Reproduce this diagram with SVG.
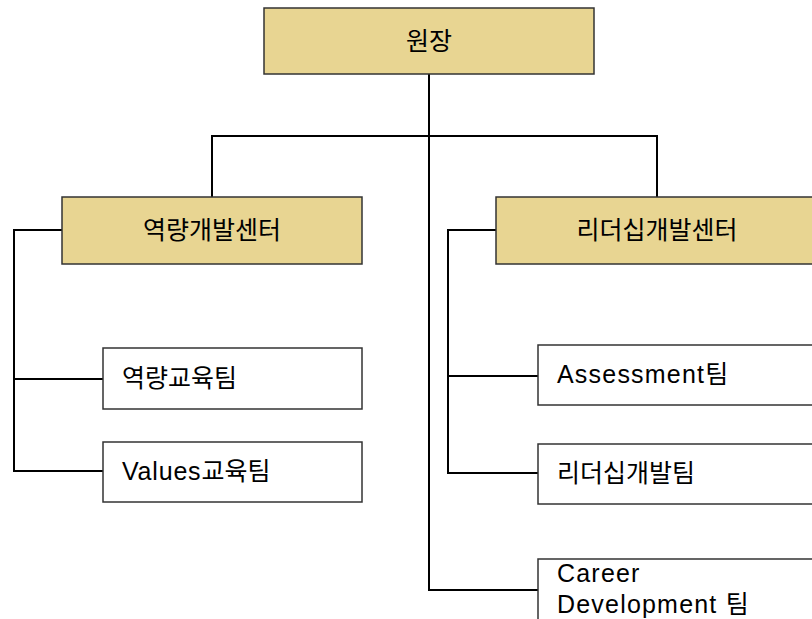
<svg xmlns="http://www.w3.org/2000/svg" width="812" height="619" viewBox="0 0 812 619">
  <style>
    .hub { fill: #e8d592; stroke: #333; stroke-width: 1.5; }
    .team { fill: #fff; stroke: #333; stroke-width: 1.5; }
    .wire { fill: none; stroke: #000; stroke-width: 2; }
    text { font-family: "Liberation Sans", "Noto Sans CJK KR", sans-serif; font-size: 25px; fill: #000; }
    .c { text-anchor: middle; dominant-baseline: central; }
    .l { dominant-baseline: central; }
    .lat { letter-spacing: 1.2px; }
  </style>
  <rect width="812" height="619" fill="#fff"/>

  <!-- connectors -->
  <g id="connectors" class="wire">
    <path d="M429 74 V590 H538"/>
    <path d="M212 197 V136 H657 V197"/>
    <path d="M62 230 H14 V471 H103 M14 379 H103"/>
    <path d="M496 230 H448 V473 H538 M448 376 H538"/>
  </g>

  <g id="director">
    <rect class="hub" x="264" y="8" width="330" height="66"/>
    <text class="c" x="429" y="41">원장</text>
  </g>

  <g id="competency-center">
    <rect class="hub" x="62" y="197" width="300" height="67"/>
    <text class="c" x="212" y="230">역량개발센터</text>
  </g>

  <g id="leadership-center">
    <rect class="hub" x="496" y="197" width="322" height="67"/>
    <text class="c" x="657" y="230">리더십개발센터</text>
  </g>

  <g id="competency-team">
    <rect class="team" x="103" y="348" width="259" height="61"/>
    <text class="l" x="122" y="378">역량교육팀</text>
  </g>

  <g id="values-team">
    <rect class="team" x="103" y="442" width="259" height="60"/>
    <text class="l" x="122" y="471"><tspan style="letter-spacing:0.8px">Values</tspan>교육팀</text>
  </g>

  <g id="assessment-team">
    <rect class="team" x="538" y="345" width="280" height="60"/>
    <text class="l" x="557" y="374"><tspan class="lat">Assessment</tspan>팀</text>
  </g>

  <g id="leadership-team">
    <rect class="team" x="538" y="444" width="280" height="60"/>
    <text class="l" x="557" y="473">리더십개발팀</text>
  </g>

  <g id="career-team">
    <rect class="team" x="538" y="559" width="280" height="80"/>
    <text class="lat" x="557" y="582">Career</text>
    <text x="557" y="613"><tspan class="lat">Development </tspan>팀</text>
  </g>
</svg>
